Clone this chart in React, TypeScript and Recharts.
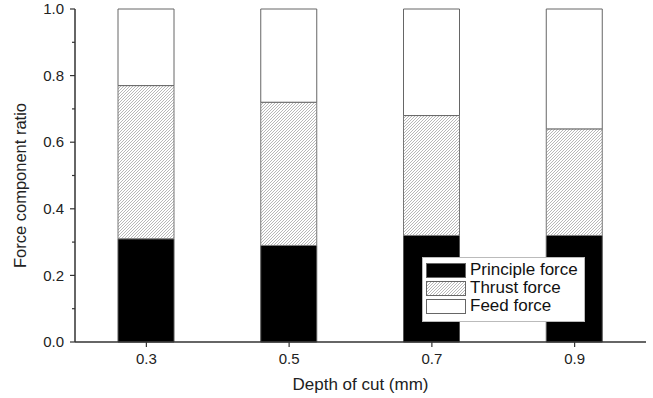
import { BarChart, Bar, XAxis, YAxis, Legend } from 'recharts'

const depths = ['0.3', '0.5', '0.7', '0.9']
const principle = [0.31, 0.29, 0.32, 0.32]
const thrust = [0.46, 0.43, 0.36, 0.32]
const feed = [0.23, 0.28, 0.32, 0.36]
const seriesNames = ['Principle force', 'Thrust force', 'Feed force']
const yMajor = [0, 0.2, 0.4, 0.6, 0.8, 1.0]
const yAll = [0, 0.1, 0.2, 0.3, 0.4, 0.5, 0.6, 0.7, 0.8, 0.9, 1.0]

const data = depths.map((d, i) => ({
  depth: d,
  principle: principle[i],
  thrust: thrust[i],
  feed: feed[i],
}))

const FONT = '"Liberation Sans", Arial, sans-serif'
const FILLS = ['#000', 'url(#hatch)', '#fff']
const AXIS = '#333'
const FRAME = '#777'

const LeftTick = (props: any) => {
  const { x, y, payload } = props
  const major = yMajor.includes(payload.value)
  return (
    <g>
      <line x1={x} x2={x - (major ? 5 : 3)} y1={y} y2={y} stroke={AXIS} strokeWidth={1.2} />
      {major && (
        <text x={x - 11} y={y} dy="0.35em" textAnchor="end" fontSize={15} fontFamily={FONT} fill="#222">
          {payload.value.toFixed(1)}
        </text>
      )}
    </g>
  )
}

const RightTick = (props: any) => {
  const { x, y, payload } = props
  const major = yMajor.includes(payload.value)
  return <line x1={x} x2={x - (major ? 6 : 3)} y1={y} y2={y} stroke={AXIS} strokeWidth={1.2} />
}

const TopTick = (props: any) => {
  const { x, y } = props
  return <line x1={x} x2={x} y1={y} y2={y + 5} stroke={AXIS} strokeWidth={1.2} />
}

const YLabel = (props: any) => {
  const { viewBox } = props
  const cx = viewBox.x + 20
  const cy = viewBox.y + viewBox.height / 2 + 10
  return (
    <text
      x={cx}
      y={cy}
      transform={`rotate(-90 ${cx} ${cy})`}
      textAnchor="middle"
      dy="0.35em"
      fontSize={16.5}
      fontFamily={FONT}
      fill="#222"
    >
      Force component ratio
    </text>
  )
}

const HatchPattern = ({ id }: { id: string }) => (
  <pattern id={id} patternUnits="userSpaceOnUse" width={3} height={3}>
    <rect width={3} height={3} fill="#fff" />
    <path d="M-1,1 l2,-2 M0,3 l3,-3 M2,4 l2,-2" stroke="#9a9a9a" strokeWidth={0.7} />
  </pattern>
)

const Swatch = ({ fill }: { fill: string }) => (
  <svg width={40} height={15} style={{ display: 'block' }}>
    <defs>
      <HatchPattern id="hatchLegend" />
    </defs>
    <rect x={0.5} y={0.5} width={39} height={14} fill={fill === 'url(#hatch)' ? 'url(#hatchLegend)' : fill} stroke="#666" />
  </svg>
)

const LegendBox = () => (
  <div
    style={{
      width: 163,
      height: 65,
      border: '1px solid #bbb',
      background: '#fff',
      boxSizing: 'border-box',
      paddingTop: 3,
      fontFamily: FONT,
    }}
  >
    {seriesNames.map((n, i) => (
      <div key={n} style={{ display: 'flex', alignItems: 'center', height: 18, paddingLeft: 3 }}>
        <Swatch fill={FILLS[i]} />
        <span style={{ marginLeft: 4, fontSize: 17, color: '#111', lineHeight: '18px' }}>{n}</span>
      </div>
    ))}
  </div>
)

export default function App() {
  return (
    <div style={{ position: 'absolute', left: 0, top: 0, background: '#fff' }}>
      <BarChart
        width={653}
        height={398}
        data={data}
        margin={{ top: 9, right: 7, bottom: 0, left: 0 }}
        barSize={56}
      >
        <defs>
          <HatchPattern id="hatch" />
        </defs>
        <XAxis
          xAxisId="bottom"
          dataKey="depth"
          height={56}
          interval={0}
          tickSize={5}
          tickMargin={6}
          axisLine={{ stroke: AXIS, strokeWidth: 1.5 }}
          tickLine={{ stroke: AXIS, strokeWidth: 1.2 }}
          tick={{ fontSize: 15, fontFamily: FONT, fill: '#222' }}
          label={{
            value: 'Depth of cut (mm)',
            position: 'insideBottom',
            offset: 8,
            style: { fontSize: 17, fontFamily: FONT, fill: '#222' },
          }}
        />
        <XAxis
          xAxisId="top"
          dataKey="depth"
          orientation="top"
          height={0}
          mirror
          interval={0}
          tickSize={0}
          tickMargin={0}
          tickLine={false}
          axisLine={{ stroke: FRAME, strokeWidth: 1.5 }}
          tick={<TopTick />}
        />
        <YAxis
          yAxisId="left"
          width={75}
          domain={[0, 1]}
          ticks={yAll}
          interval={0}
          tickSize={0}
          tickMargin={0}
          tickLine={false}
          axisLine={{ stroke: AXIS, strokeWidth: 1.5 }}
          tick={<LeftTick />}
          label={<YLabel />}
        />
        <YAxis
          yAxisId="right"
          orientation="right"
          width={0}
          domain={[0, 1]}
          ticks={yAll}
          interval={0}
          tickSize={0}
          tickMargin={0}
          tickLine={false}
          axisLine={{ stroke: FRAME, strokeWidth: 1.5 }}
          tick={<RightTick />}
        />
        <Legend
          layout="vertical"
          align="center"
          verticalAlign="middle"
          wrapperStyle={{ left: 422, top: 257, width: 163 }}
          content={() => <LegendBox />}
        />
        <Bar xAxisId="bottom" yAxisId="left" dataKey="principle" name={seriesNames[0]} stackId="a" fill={FILLS[0]} stroke="#555" strokeWidth={1} isAnimationActive={false} />
        <Bar xAxisId="bottom" yAxisId="left" dataKey="thrust" name={seriesNames[1]} stackId="a" fill={FILLS[1]} stroke="#777" strokeWidth={1} isAnimationActive={false} />
        <Bar xAxisId="bottom" yAxisId="left" dataKey="feed" name={seriesNames[2]} stackId="a" fill={FILLS[2]} stroke="#666" strokeWidth={1} isAnimationActive={false} />
      </BarChart>
    </div>
  )
}
